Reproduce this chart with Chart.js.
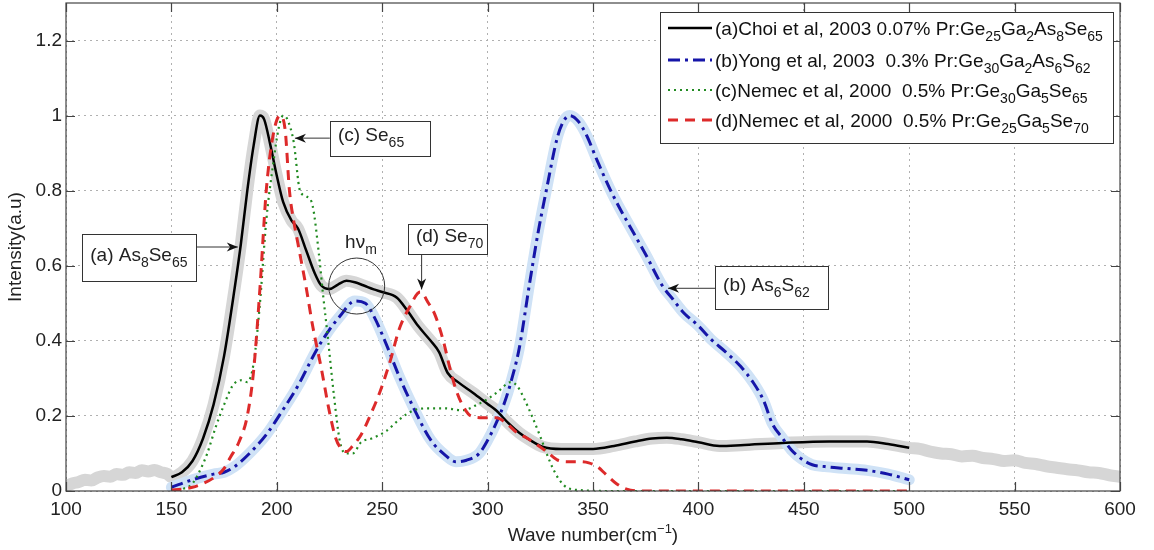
<!DOCTYPE html>
<html>
<head>
<meta charset="utf-8">
<script src="https://cdn.jsdelivr.net/npm/chart.js@4.4.1/dist/chart.umd.min.js"></script>
<style>
  html, body { margin: 0; padding: 0; background: #fff; }
</style>
</head>
<body>
<canvas id="spectra" width="1154" height="550"></canvas>
<script>
const FONT = '"Liberation Sans", Arial, Helvetica, sans-serif';

// axis ticks
const xTicks = [100, 150, 200, 250, 300, 350, 400, 450, 500, 550, 600];
const yTicks = [0, 0.2, 0.4, 0.6, 0.8, 1, 1.2];

// (a) Choi et al - fitted curve
const blackX = [150, 155, 160, 165, 170, 175, 180, 183, 186, 189, 192, 194, 197, 200, 203, 207, 210, 214, 218, 221, 225, 229, 233, 237, 241, 246, 250, 257, 262, 267, 273, 277, 281, 286, 293, 300, 304, 310, 315, 320, 326, 335, 350, 360, 370, 378, 385, 392, 400, 410, 420, 440, 462, 480, 490, 500];
const blackY = [0.037, 0.05, 0.08, 0.14, 0.23, 0.36, 0.54, 0.66, 0.8, 0.92, 1.0, 0.99, 0.92, 0.84, 0.77, 0.72, 0.7, 0.64, 0.58, 0.548, 0.538, 0.55, 0.56, 0.556, 0.548, 0.537, 0.53, 0.515, 0.48, 0.44, 0.4, 0.37, 0.315, 0.29, 0.262, 0.232, 0.215, 0.18, 0.155, 0.136, 0.118, 0.112, 0.112, 0.12, 0.132, 0.14, 0.142, 0.138, 0.13, 0.12, 0.122, 0.128, 0.132, 0.132, 0.125, 0.115];

// raw measured data of (a) outside the fitted range (grey band)
const greyLeftX = [100, 103, 106, 109, 112, 115, 118, 121, 124, 127, 130, 133, 136, 139, 142, 145, 148];
const greyLeftY = [0.012, 0.02, 0.024, 0.03, 0.028, 0.036, 0.04, 0.038, 0.045, 0.043, 0.05, 0.048, 0.055, 0.052, 0.056, 0.05, 0.046];
const greyRightX = [505, 510, 515, 520, 525, 530, 535, 540, 545, 550, 555, 560, 565, 570, 575, 580, 585, 590, 595, 600];
const greyRightY = [0.112, 0.105, 0.1, 0.098, 0.092, 0.094, 0.088, 0.085, 0.08, 0.082, 0.075, 0.072, 0.066, 0.062, 0.058, 0.055, 0.05, 0.048, 0.042, 0.038];

// (b) Yong et al
const blueX = [150, 160, 170, 175, 180, 187, 195, 203, 210, 219, 225, 230, 237, 242, 246, 252, 258, 265, 273, 280, 285, 290, 296, 300, 304, 308, 311, 315, 320, 324, 328, 333, 336, 339, 343, 347, 352, 358, 363, 368, 375, 383, 388, 393, 400, 406, 413, 420, 426, 431, 435, 440, 444, 449, 454, 460, 470, 480, 490, 500];
const blueY = [0.01, 0.03, 0.045, 0.05, 0.065, 0.1, 0.15, 0.217, 0.28, 0.377, 0.43, 0.466, 0.506, 0.5, 0.466, 0.39, 0.306, 0.22, 0.136, 0.095, 0.078, 0.082, 0.1, 0.135, 0.18, 0.235, 0.289, 0.38, 0.556, 0.69, 0.805, 0.94, 0.985, 1.0, 0.985, 0.947, 0.88, 0.805, 0.75, 0.7, 0.63, 0.546, 0.51, 0.475, 0.44, 0.404, 0.37, 0.332, 0.289, 0.24, 0.18, 0.14, 0.11, 0.085, 0.07, 0.065, 0.06, 0.055, 0.045, 0.03];

// (c) Nemec et al, Ge30Ga5Se65
const greenX = [150, 155, 160, 164, 167, 171, 175, 179, 183, 186, 189, 192, 195, 198, 201, 203, 205, 208, 211, 214, 217, 220, 222, 224, 227, 230, 233, 236, 240, 245, 252, 258, 265, 272, 280, 288, 295, 300, 305, 311, 314, 317, 321, 325, 328, 331, 334, 338, 345, 360, 400, 450, 500];
const greenY = [0.0, 0.005, 0.02, 0.06, 0.1, 0.17, 0.23, 0.28, 0.295, 0.29, 0.34, 0.5, 0.72, 0.86, 0.97, 1.0, 0.99, 0.93, 0.8, 0.785, 0.76, 0.63, 0.52, 0.42, 0.26, 0.13, 0.1, 0.1, 0.13, 0.14, 0.16, 0.19, 0.215, 0.22, 0.22, 0.215, 0.23, 0.245, 0.265, 0.29, 0.28, 0.25, 0.2, 0.145, 0.1, 0.06, 0.03, 0.008, 0.002, 0, 0, 0, 0];

// (d) Nemec et al, Ge25Ga5Se70
const redX = [150, 155, 160, 165, 170, 175, 178, 182, 186, 189, 192, 195, 198, 201.5, 204, 206, 208, 210, 214, 217, 221, 225, 228, 231, 233, 236, 240, 245, 249, 254, 258, 263, 268, 272, 275, 279, 282, 285, 288, 292, 298, 304, 309, 314, 319, 323, 328, 333, 338, 344, 348, 352, 356, 361, 366, 375, 400, 450, 500];
const redY = [0.003, 0.005, 0.01, 0.02, 0.035, 0.06, 0.09, 0.13, 0.2, 0.32, 0.54, 0.8, 0.94, 1.0, 0.96, 0.8, 0.72, 0.66, 0.54, 0.44, 0.33, 0.21, 0.14, 0.11, 0.105, 0.12, 0.15, 0.21, 0.265, 0.35, 0.43, 0.49, 0.53, 0.5, 0.47, 0.4, 0.33, 0.27, 0.23, 0.2, 0.195, 0.195, 0.18, 0.155, 0.14, 0.125, 0.105, 0.083, 0.078, 0.078, 0.075, 0.065, 0.045, 0.02, 0.005, 0, 0, 0, 0];

// legend text, [..] = subscript
const legendLabels = [
  ['(a)Choi et al, 2003 0.07% Pr:Ge', ['25'], 'Ga', ['2'], 'As', ['8'], 'Se', ['65']],
  ['(b)Yong et al, 2003  0.3% Pr:Ge', ['30'], 'Ga', ['2'], 'As', ['6'], 'S', ['62']],
  ['(c)Nemec et al, 2000  0.5% Pr:Ge', ['30'], 'Ga', ['5'], 'Se', ['65']],
  ['(d)Nemec et al, 2000  0.5% Pr:Ge', ['25'], 'Ga', ['5'], 'Se', ['70']]
];

// callouts: box [x1, x2, y1, y2] and arrow [xFrom, yFrom, xTo, yTo] in data units
const notes = [
  { text: ['(a) As', ['8'], 'Se', ['65']], box: [107.7, 162, 0.56, 0.684], arrow: [162, 0.65, 181.5, 0.65] },
  { text: ['(c) Se', ['65']], box: [225.2, 272.6, 0.893, 0.986], arrow: [225.2, 0.94, 208.6, 0.94] },
  { text: ['(d) Se', ['70']], box: [262.2, 299.7, 0.631, 0.711], arrow: [268.7, 0.631, 268.7, 0.537] },
  { text: ['(b) As', ['6'], 'S', ['62']], box: [407.9, 461.5, 0.484, 0.599], arrow: [407.9, 0.54, 385.6, 0.54] }
];

function pts(xs, ys) {
  return xs.map((x, i) => ({ x: x, y: ys[i] }));
}

function richText(ctx, segs, x, y, size) {
  let cx = x;
  segs.forEach(s => {
    const sub = Array.isArray(s);
    const t = sub ? s[0] : s;
    ctx.font = (sub ? Math.round(size * 0.74) : size) + 'px ' + FONT;
    ctx.fillText(t, cx, sub ? y + size * 0.32 : y);
    cx += ctx.measureText(t).width;
  });
  return cx - x;
}

function arrowHead(ctx, x1, y1, x2, y2) {
  const a = Math.atan2(y2 - y1, x2 - x1);
  const len = 11, hw = 4.5;
  ctx.beginPath();
  ctx.moveTo(x2, y2);
  ctx.lineTo(x2 - len * Math.cos(a) + hw * Math.sin(a), y2 - len * Math.sin(a) - hw * Math.cos(a));
  ctx.lineTo(x2 - len * 0.7 * Math.cos(a), y2 - len * 0.7 * Math.sin(a));
  ctx.lineTo(x2 - len * Math.cos(a) - hw * Math.sin(a), y2 - len * Math.sin(a) + hw * Math.cos(a));
  ctx.closePath();
  ctx.fill();
}

function zeroPad(s) {
  s.paddingTop = 0; s.paddingBottom = 0; s.paddingLeft = 0; s.paddingRight = 0;
}

const notesPlugin = {
  id: 'notes',
  afterDatasetsDraw(chart) {
    const ctx = chart.ctx;
    const a = chart.chartArea;
    const xs = chart.scales.x, ys = chart.scales.y;
    ctx.save();

    // frame + inward ticks
    ctx.strokeStyle = '#444';
    ctx.lineWidth = 1.2;
    ctx.strokeRect(a.left, a.top, a.right - a.left, a.bottom - a.top);
    ctx.beginPath();
    xTicks.forEach(v => {
      const px = Math.round(xs.getPixelForValue(v)) + 0.5;
      ctx.moveTo(px, a.bottom); ctx.lineTo(px, a.bottom - 9);
      ctx.moveTo(px, a.top); ctx.lineTo(px, a.top + 9);
    });
    yTicks.forEach(v => {
      const py = Math.round(ys.getPixelForValue(v)) + 0.5;
      ctx.moveTo(a.left, py); ctx.lineTo(a.left + 9, py);
      ctx.moveTo(a.right, py); ctx.lineTo(a.right - 9, py);
    });
    ctx.stroke();

    // callout boxes with arrows
    ctx.textBaseline = 'alphabetic';
    notes.forEach(n => {
      const x1 = xs.getPixelForValue(n.box[0]), x2 = xs.getPixelForValue(n.box[1]);
      const y1 = ys.getPixelForValue(n.box[3]), y2 = ys.getPixelForValue(n.box[2]);
      const ax1 = xs.getPixelForValue(n.arrow[0]), ay1 = ys.getPixelForValue(n.arrow[1]);
      const ax2 = xs.getPixelForValue(n.arrow[2]), ay2 = ys.getPixelForValue(n.arrow[3]);
      ctx.strokeStyle = '#333';
      ctx.lineWidth = 1;
      ctx.beginPath();
      ctx.moveTo(ax1, ay1); ctx.lineTo(ax2, ay2);
      ctx.stroke();
      ctx.fillStyle = '#111';
      arrowHead(ctx, ax1, ay1, ax2, ay2);
      ctx.fillStyle = '#fff';
      ctx.fillRect(x1, y1, x2 - x1, y2 - y1);
      ctx.strokeRect(Math.round(x1) + 0.5, Math.round(y1) + 0.5, Math.round(x2 - x1), Math.round(y2 - y1));
      ctx.fillStyle = '#222';
      richText(ctx, n.text, x1 + 8, (y1 + y2) / 2 + 3, 19);
    });

    // h-nu circle
    ctx.strokeStyle = '#333';
    ctx.lineWidth = 1;
    ctx.beginPath();
    ctx.arc(xs.getPixelForValue(237.9), ys.getPixelForValue(0.546), 28, 0, Math.PI * 2);
    ctx.stroke();
    ctx.fillStyle = '#222';
    richText(ctx, ['h\u03bd', ['m']], xs.getPixelForValue(232.4), ys.getPixelForValue(0.647), 19);

    // legend
    const lx = 660, ly = 12, lw = 453, lh = 131;
    ctx.fillStyle = '#fff';
    ctx.fillRect(lx, ly, lw, lh);
    ctx.strokeStyle = '#333';
    ctx.lineWidth = 1;
    ctx.strokeRect(lx + 0.5, ly + 0.5, lw, lh);
    const rows = [28, 60, 90, 120];
    const order = [3, 2, 1, 0]; // dataset index for a, b, c, d
    rows.forEach((ry, i) => {
      const ds = chart.data.datasets[order[i]];
      ctx.save();
      ctx.strokeStyle = ds.borderColor;
      ctx.lineWidth = ds.borderWidth;
      ctx.setLineDash(ds.borderDash || []);
      ctx.beginPath();
      ctx.moveTo(668, ry); ctx.lineTo(712, ry);
      ctx.stroke();
      ctx.restore();
      ctx.fillStyle = '#111';
      richText(ctx, legendLabels[i], 715, ry + 7, 19);
    });

    // x axis title
    ctx.fillStyle = '#222';
    const t1 = 'Wave number(cm', t2 = '\u22121', t3 = ')';
    ctx.font = '19px ' + FONT; const w1 = ctx.measureText(t1).width; const w3 = ctx.measureText(t3).width;
    ctx.font = '13px ' + FONT; const w2 = ctx.measureText(t2).width;
    const cx = (a.left + a.right) / 2 - (w1 + w2 + w3) / 2;
    const by = 541;
    ctx.font = '19px ' + FONT; ctx.fillText(t1, cx, by);
    ctx.font = '13px ' + FONT; ctx.fillText(t2, cx + w1, by - 8);
    ctx.font = '19px ' + FONT; ctx.fillText(t3, cx + w1 + w2, by);
    ctx.restore();
  }
};

const tickFont = { family: FONT, size: 19 };

new Chart(document.getElementById('spectra').getContext('2d'), {
  type: 'line',
  data: {
    datasets: [
      { label: '(d)', data: pts(redX, redY), borderColor: '#dd2a2a', borderWidth: 3, borderDash: [10, 7] },
      { label: '(c)', data: pts(greenX, greenY), borderColor: '#228b22', borderWidth: 2.2, borderDash: [2, 4] },
      { label: '(b)', data: pts(blueX, blueY), borderColor: '#1515a8', borderWidth: 3, borderDash: [12, 5, 3, 5] },
      { label: '(a)', data: pts(blackX, blackY), borderColor: '#000000', borderWidth: 2.5 },
      { label: 'b raw', data: pts(blueX, blueY), borderColor: '#cfe2f6', borderWidth: 11, borderCapStyle: 'round', borderJoinStyle: 'round' },
      { label: 'a raw', data: pts([...greyLeftX, ...blackX, ...greyRightX], [...greyLeftY, ...blackY, ...greyRightY]), borderColor: '#d6d6d6', borderWidth: 12, borderCapStyle: 'round', borderJoinStyle: 'round' }
    ]
  },
  options: {
    responsive: false,
    animation: false,
    layout: { padding: { left: 0, right: 34, top: 3, bottom: 0 } },
    elements: {
      point: { radius: 0 },
      line: { cubicInterpolationMode: 'monotone', fill: false }
    },
    plugins: {
      legend: { display: false },
      tooltip: { enabled: false }
    },
    scales: {
      x: {
        type: 'linear',
        min: 100,
        max: 600,
        afterBuildTicks: s => { s.ticks = xTicks.map(v => ({ value: v })); },
        afterFit: s => { s.height = 59; zeroPad(s); },
        grid: { color: '#b0b0b0', drawTicks: false },
        border: { display: false, dash: [2, 4] },
        ticks: { padding: 7, color: '#222', font: tickFont, maxRotation: 0, callback: v => String(v) }
      },
      y: {
        min: 0,
        max: 1.3,
        afterBuildTicks: s => { s.ticks = yTicks.map(v => ({ value: v })); },
        afterFit: s => { s.width = 66; zeroPad(s); },
        grid: { color: '#b0b0b0', drawTicks: false },
        border: { display: false, dash: [2, 4] },
        ticks: { padding: 4, color: '#222', font: tickFont, callback: v => String(+v.toFixed(1)) },
        title: { display: true, text: 'Intensity(a.u)', color: '#222', font: { family: FONT, size: 19 }, padding: { top: 4, bottom: 0 } }
      }
    }
  },
  plugins: [notesPlugin]
});
</script>
</body>
</html>
